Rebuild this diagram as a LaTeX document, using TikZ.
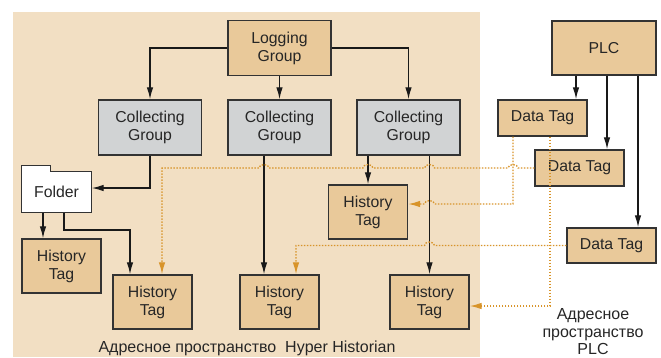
\documentclass[tikz,border=0pt]{standalone}
\usepackage{fontspec}
\setmainfont{Liberation Sans}
\usetikzlibrary{arrows.meta,calc}
\definecolor{paper}{HTML}{F2DFC3}
\definecolor{tan}{HTML}{E9C99A}
\definecolor{grey}{HTML}{D1D3D4}
\definecolor{edge}{HTML}{333333}
\definecolor{link}{HTML}{D8942A}
% small bump where a dotted line crosses a solid one
\newcommand{\hop}[1]{-- ($#1+(5,0)$) arc[start angle=0,end angle=180,x radius=5pt,y radius=3.5pt]}

\begin{document}
\begin{tikzpicture}[x=1pt,y=-1pt,
    box/.style={draw=edge,line width=1.4pt,fill=tan,align=center,inner sep=0pt,
      font=\fontsize{15.8}{18}\selectfont,text=black!85},
    group/.style={box,minimum width=103pt,minimum height=55pt},
    coll/.style={group,fill=grey},
    hist/.style={box,minimum width=79pt,minimum height=54pt},
    data/.style={box,minimum width=89pt,minimum height=36pt},
    arr/.style={draw=black!90,line width=1.3pt,-{Latex[length=12pt,width=6.5pt]}},
    ref/.style={draw=link,line width=1.3pt,dash pattern=on 1.5pt off 1.5pt,
      -{Latex[length=12pt,width=6.5pt,fill=link]}},
    note/.style={font=\fontsize{16}{17.5}\selectfont,align=center,text=black!85}]
    \useasboundingbox (0,0) rectangle (661,357);
    \fill[paper] (13,12) rectangle (480,357);

    % Hyper Historian side
    \node[group] (lg) at (279.5,48) {Logging\\Group};
    \node[coll] (cg1) at (150,127.5) {Collecting\\Group};
    \node[coll] (cg2) at (279.5,127.5) {Collecting\\Group};
    \node[coll] (cg3) at (408.5,127.5) {Collecting\\Group};
    \node[box,fill=none,draw=none,minimum width=69pt,minimum height=40pt] (folder) at (56.5,192) {};
    \draw[edge,line width=1.4pt,fill=white] (folder.south west)
      -- ($(folder.north west)+(0,-6)$) -- ($(folder.north west)+(29,-6)$)
      -- ($(folder.north west)+(29,0)$) -- (folder.north east)
      -- (folder.south east) -- cycle;
    \node[box,fill=none,draw=none] at (folder) {Folder};
    \node[hist] (htA) at (61.5,266) {History\\Tag};
    \node[hist] (htB) at (152.5,302) {History\\Tag};
    \node[hist] (htC) at (279.5,302) {History\\Tag};
    \node[hist] (htD) at (368,212) {History\\Tag};
    \node[hist] (htE) at (429.5,302) {History\\Tag};

    % PLC side
    \node[box,minimum width=104pt,minimum height=54pt] (plc) at (604,48) {PLC};
    \node[data] (dt1) at (542.5,118) {Data Tag};
    \node[data] (dt2) at (579.5,168) {Data Tag};
    \node[data,minimum height=35pt] (dt3) at (611.5,245.5) {Data Tag};

    \node[note] (hhspace) at (247,348) {Адресное пространство\ \ Hyper Historian};
    \node[note] (plcspace) at (593,332) {Адресное\\пространство\\PLC};

    % guide lines
    \coordinate (pA) at (576,0);
    \coordinate (pB) at (607,0);
    \coordinate (pC) at (638,0);
    \coordinate (fA) at (43,0);
    \coordinate (fB) at (64,0);
    \coordinate (fC) at (130,0);
    \coordinate (fy) at (0,230);
    \coordinate (cM) at (264,0);
    \coordinate (dA) at (513,0);
    \coordinate (dB) at (550,0);
    \coordinate (rB) at (162,0);
    \coordinate (rC) at (296,0);
    \coordinate (t2) at ($(htD.east)+(0,-8)$);
    \coordinate (t3) at ($(htE.east)+(0,4)$);

    \draw[arr] (lg.west) -| (cg1.north);
    \draw[arr] (lg.south) -- (cg2.north);
    \draw[arr] (lg.east) -| (cg3.north);
    \draw[arr] (cg1.south) |- ($(folder.east)+(0,-4)$);
    \draw[arr] (folder.south -| fA) -- (htA.north -| fA);
    \draw[arr] (folder.south -| fB) -- (fB |- fy) -| (htB.north -| fC);
    \draw[arr] (cg2.south -| cM) -- (htC.north -| cM);
    \draw[arr] (cg3.south -| htD.north) -- (htD.north);
    \draw[arr] (cg3.south -| htE.north) -- (htE.north);
    \draw[arr] (plc.south -| pA) -- (dt1.north -| pA);
    \draw[arr] (plc.south -| pB) -- (dt2.north -| pB);
    \draw[arr] (plc.south -| pC) -- (dt3.north -| pC);

    \draw[ref] (dt2.west) \hop{(dt2.west -| dA)} \hop{(dt2.west -| htE)}
      \hop{(dt2.west -| htD)} \hop{(dt2.west -| cM)}
      -- (dt2.west -| rB) -- (htB.north -| rB);
    \draw[ref] (dt1.south -| dA) -- (dA |- t2) \hop{(t2 -| htE)} -- (t2);
    \draw[ref] (dt1.south -| dB) |- (t3);
    \draw[ref] (dt3.west) \hop{(dt3.west -| htE)} -- (dt3.west -| rC) -- (htC.north -| rC);
\end{tikzpicture}
\end{document}
